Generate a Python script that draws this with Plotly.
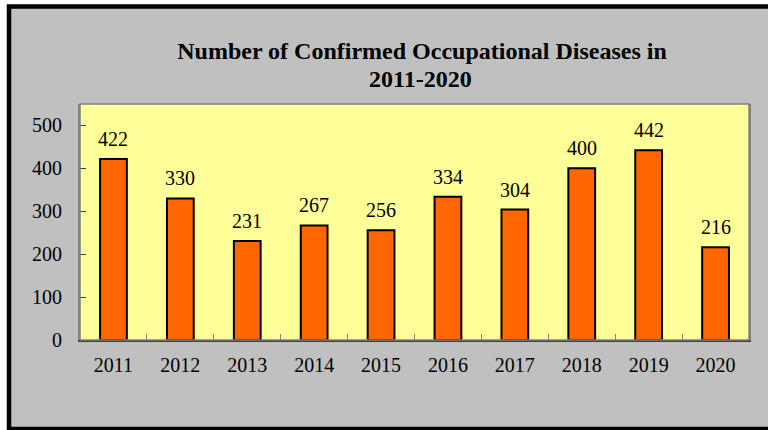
import plotly.graph_objects as go

years = ["2011", "2012", "2013", "2014", "2015", "2016", "2017", "2018", "2019", "2020"]
cases = [422, 330, 231, 267, 256, 334, 304, 400, 442, 216]
y_ticks = [0, 100, 200, 300, 400, 500]
title_line1 = "Number of Confirmed Occupational Diseases in"
title_line2 = "2011-2020"

FONT = "Liberation Serif, Times New Roman, serif"
W, H = 768, 430
L, R, T, B = 80, 19, 104, 90
pw, ph = W - L - R, H - T - B

def px_x(p):
    return (p - L) / pw

def px_y(p):
    return (H - B - p) / ph

fig = go.Figure()
fig.add_trace(go.Bar(
    x=years, y=cases, width=0.4,
    marker=dict(color="#FF6600", line=dict(color="black", width=2)),
    hoverinfo="x+y",
))

for i, v in enumerate(cases):
    fig.add_annotation(x=i, y=v, text=str(v), showarrow=False,
                       yanchor="bottom", yshift=7,
                       font=dict(family=FONT, size=20, color="black"))

# second title line
fig.add_annotation(xref="paper", yref="paper", x=px_x(420), y=px_y(79),
                   text=title_line2, showarrow=False,
                   xanchor="center", yanchor="middle",
                   font=dict(family=FONT, size=24, color="black", weight="bold"))

# outer gray panel with black frame
fig.add_shape(type="rect", xref="paper", yref="paper",
              x0=px_x(9), x1=px_x(785), y0=px_y(429), y1=px_y(6.5),
              fillcolor="#C0C0C0", line=dict(color="black", width=4.5),
              layer="below")
# yellow plot area
fig.add_shape(type="rect", xref="paper", yref="paper", x0=0, x1=1, y0=0, y1=1,
              fillcolor="#FFFF99", line=dict(width=0), layer="below")

fig.update_layout(
    width=W, height=H,
    margin=dict(l=L, r=R, t=T, b=B),
    paper_bgcolor="white",
    plot_bgcolor="rgba(0,0,0,0)",
    showlegend=False,
    bargap=0.6,
    title=dict(text=title_line1, x=422 / W, xanchor="center",
               y=1 - 51 / H, yanchor="middle",
               font=dict(family=FONT, size=24, color="black", weight="bold")),
    font=dict(family=FONT, size=20, color="black"),
)
fig.update_xaxes(type="category", showline=True, linecolor="#404040", linewidth=2,
                 mirror=False, ticks="inside", ticklen=6, tickcolor="#808080",
                 tickson="boundaries", showgrid=False, ticklabelstandoff=6,
                 tickfont=dict(family=FONT, size=20, color="black"))
fig.update_yaxes(range=[0, 550], tickvals=y_ticks, showline=True,
                 linecolor="#808080", linewidth=2, mirror=True,
                 ticks="inside", ticklen=6, tickcolor="#404040",
                 showgrid=False, zeroline=False, ticklabelstandoff=12,
                 tickfont=dict(family=FONT, size=20, color="black"))
# gray border of plot area
fig.add_shape(type="rect", xref="paper", yref="paper", x0=0, x1=1, y0=0, y1=1,
              line=dict(color="#808080", width=1.5), layer="above")

fig.write_html("out.html", config={"displayModeBar": False},
               post_script="document.body.style.margin='0px';")
